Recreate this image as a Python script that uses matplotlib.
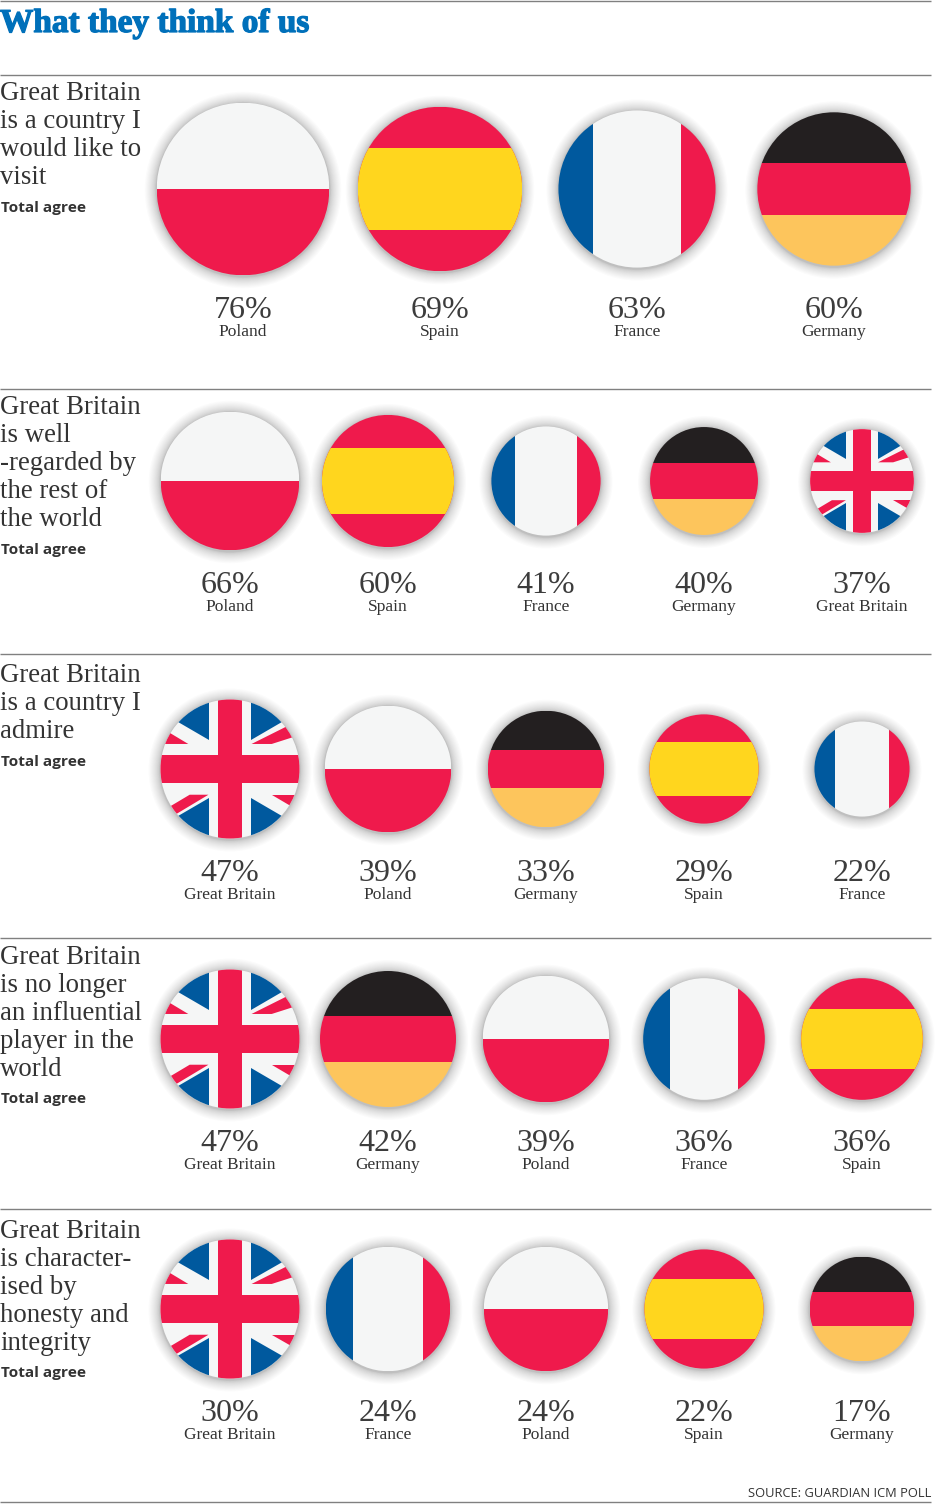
"""What they think of us - flag bubbles, area scaled to the poll value."""
import numpy as np
import matplotlib
matplotlib.use("Agg")
import matplotlib.pyplot as plt
import matplotlib.patheffects as pe
from matplotlib.patches import Circle, Rectangle, Polygon

W, H = 940, 1507

TITLE = "What they think of us"
SOURCE = "SOURCE: GUARDIAN ICM POLL"
SUBHEAD = "Total agree"

q1 = ["Great Britain", "is a country I", "would like to", "visit"]
q2 = ["Great Britain", "is well", "-regarded by", "the rest of", "the world"]
q3 = ["Great Britain", "is a country I", "admire"]
q4 = ["Great Britain", "is no longer", "an influential", "player in the", "world"]
q5 = ["Great Britain", "is character-", "ised by", "honesty and", "integrity"]

countries1 = ["Poland", "Spain", "France", "Germany"]
values1 = [76, 69, 63, 60]
countries2 = ["Poland", "Spain", "France", "Germany", "Great Britain"]
values2 = [66, 60, 41, 40, 37]
countries3 = ["Great Britain", "Poland", "Germany", "Spain", "France"]
values3 = [47, 39, 33, 29, 22]
countries4 = ["Great Britain", "Germany", "Poland", "France", "Spain"]
values4 = [47, 42, 39, 36, 36]
countries5 = ["Great Britain", "France", "Poland", "Spain", "Germany"]
values5 = [30, 24, 24, 22, 17]

# layout in pixels, one row per section
RULES = [1, 75, 389, 654, 938, 1209, 1502]
ROW_Y = [189, 481, 769, 1039, 1309]
TEXT_Y = [100, 414, 682, 964, 1238]
SUB_Y = [213, 555, 767, 1104, 1378]
PCT_Y = [318, 593, 881, 1151, 1421]
R_SCALE = [9.9, 8.53, 10.14, 10.14, 12.7]
COLS_4 = [243, 440, 637, 834]
COLS_5 = [230, 388, 546, 704, 862]
# the Germany disc in section 4 is drawn a bit larger than its share
R_OVERRIDE = {(3, 1): 68}

RED = "#EF1A4C"
WHITE = "#F5F6F6"
YELLOW = "#FFD61E"
BLUE = "#00599E"
BLACK = "#231F20"
GOLD = "#FDC55C"
INK = "#333333"
RULE = "#808080"
TITLE_BLUE = "#0070BA"

SERIF = "Liberation Serif"
SANS = "Open Sans"


def add_rect(ax, clip, cx, cy, r, x0, y0, x1, y1, color):
    p = Rectangle((cx + x0 * r, cy + y0 * r), (x1 - x0) * r, (y1 - y0) * r,
                  fc=color, ec="none", zorder=3)
    ax.add_patch(p)
    p.set_clip_path(clip)


def add_poly(ax, clip, cx, cy, r, pts, color, z=4):
    pts = np.array(pts) * r + [cx, cy]
    p = Polygon(pts, closed=True, fc=color, ec="none", zorder=z)
    ax.add_patch(p)
    p.set_clip_path(clip)


def draw_union(ax, clip, cx, cy, r):
    add_rect(ax, clip, cx, cy, r, -1, -1, 1, 1, WHITE)
    # blue triangles, extended past the circle
    for sx in (-1, 1):
        for sy in (-1, 1):
            add_poly(ax, clip, cx, cy, r,
                     [(sx * 0.30, sy * 0.42), (sx * 0.30, sy * 1.1),
                      (sx * 1.1, sy * 1.1), (sx * 1.1, sy * 0.88)], BLUE)
    # red diagonals
    add_poly(ax, clip, cx, cy, r, [(-1.1, -0.66), (-0.60, -0.36), (-1.1, -0.36)], RED)
    add_poly(ax, clip, cx, cy, r, [(0.31, -0.36), (0.60, -0.36), (1.1, -0.52), (1.1, -0.76), (0.84, -0.625)], RED)
    add_poly(ax, clip, cx, cy, r, [(-0.31, 0.37), (-0.58, 0.37), (-1.1, 0.68), (-1.1, 0.86), (-0.76, 0.64)], RED)
    add_poly(ax, clip, cx, cy, r, [(0.60, 0.37), (1.1, 0.37), (1.1, 0.66)], RED)
    # centre cross
    add_rect(ax, clip, cx, cy, r, -0.175, -1, 0.175, 1, RED)
    add_rect(ax, clip, cx, cy, r, -1, -0.20, 1, 0.20, RED)


def draw_flag(ax, country, cx, cy, r):
    # soft drop shadow, layers packed towards the disc edge
    for t in np.linspace(0, 1, 16):
        ax.add_patch(Circle((cx, cy + 1), r + 1 + 11 * t ** 1.6, fc="black",
                            ec="none", alpha=0.014, zorder=2))
    clip = Circle((cx, cy), r, transform=ax.transData)
    if country == "Poland":
        add_rect(ax, clip, cx, cy, r, -1, -1, 1, 0, WHITE)
        add_rect(ax, clip, cx, cy, r, -1, 0, 1, 1, RED)
    elif country == "Spain":
        add_rect(ax, clip, cx, cy, r, -1, -1, 1, 1, RED)
        add_rect(ax, clip, cx, cy, r, -1, -0.5, 1, 0.5, YELLOW)
    elif country == "France":
        add_rect(ax, clip, cx, cy, r, -1, -1, -0.56, 1, BLUE)
        add_rect(ax, clip, cx, cy, r, -0.56, -1, 0.56, 1, WHITE)
        add_rect(ax, clip, cx, cy, r, 0.56, -1, 1, 1, RED)
    elif country == "Germany":
        add_rect(ax, clip, cx, cy, r, -1, -1, 1, -1 / 3, BLACK)
        add_rect(ax, clip, cx, cy, r, -1, -1 / 3, 1, 1 / 3, RED)
        add_rect(ax, clip, cx, cy, r, -1, 1 / 3, 1, 1, GOLD)
    else:
        draw_union(ax, clip, cx, cy, r)


fig = plt.figure(figsize=(W / 100, H / 100), dpi=100, facecolor="white")
ax = fig.add_axes([0, 0, 1, 1])
ax.set_xlim(0, W)
ax.set_ylim(H, 0)
ax.axis("off")

for y in RULES:
    ax.plot([0, 931], [y, y], color=RULE, lw=1.0, solid_capstyle="butt")

t = ax.text(0, 32, TITLE, family=SERIF, weight="bold", fontsize=24.0,
            color=TITLE_BLUE, va="baseline", ha="left")
t.set_path_effects([pe.withStroke(linewidth=0.9, foreground=TITLE_BLUE)])
ax.text(931, 1497, SOURCE, family=SANS, fontsize=9.3, color=INK,
        va="baseline", ha="right")

questions = [q1, q2, q3, q4, q5]
all_countries = [countries1, countries2, countries3, countries4, countries5]
all_values = [values1, values2, values3, values4, values5]

for i in range(5):
    for j, line in enumerate(questions[i]):
        ax.text(0, TEXT_Y[i] + j * 28, line, family=SERIF, fontsize=19.3,
                color=INK, va="baseline", ha="left")
    ax.text(1, SUB_Y[i] - 1, SUBHEAD, family=SANS, weight="bold", fontsize=11.1,
            color=INK, va="baseline", ha="left")
    cols = COLS_4 if len(all_values[i]) == 4 else COLS_5
    for j, (cx, country, val) in enumerate(zip(cols, all_countries[i], all_values[i])):
        r = R_OVERRIDE.get((i, j), R_SCALE[i] * np.sqrt(val))
        draw_flag(ax, country, cx, ROW_Y[i], r)
        ax.text(cx, PCT_Y[i], f"{val}%", family=SERIF, fontsize=23, color="#3C3C3C",
                va="baseline", ha="center")
        ax.text(cx, PCT_Y[i] + 18, country, family=SERIF, fontsize=12.5,
                color=INK, va="baseline", ha="center")

fig.savefig("out.png", dpi=100)
plt.close(fig)
